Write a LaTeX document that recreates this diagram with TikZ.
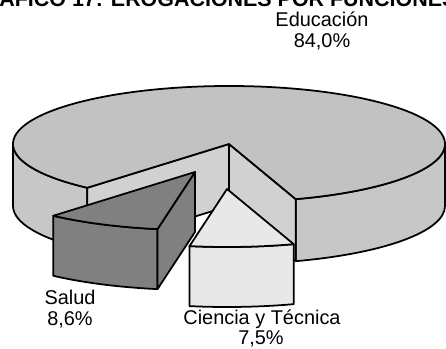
\documentclass[tikz,border=0pt]{standalone}
\usepackage{fontspec}
\setmainfont{Liberation Sans}
\usepackage{tikz}
\definecolor{edutop}{gray}{0.76}
\definecolor{eduside}{gray}{0.78}
\definecolor{educut}{gray}{0.82}
\definecolor{saludfill}{gray}{0.50}
\definecolor{cienfill}{gray}{0.91}

\begin{document}
\begin{tikzpicture}[x=0.03cm,y=-0.03cm,
    slice/.style={draw=black,line width=1.5pt,line join=round},
    lbl/.style={anchor=base,inner sep=0pt,font=\fontsize{17}{20}\selectfont}]
    \useasboundingbox (0,0) rectangle (446,349);
    \clip (0,0) rectangle (446,349);
    \def\rx{216} \def\ry{58}
    % Educacion
    \coordinate (e) at (229,144);
    \coordinate (eb) at (229,206);
    \coordinate (eR) at ({229+\rx*cos(72)},{144+\ry*sin(72)});
    \coordinate (eL) at ({229+\rx*cos(131)},{144+\ry*sin(131)});
    \coordinate (eE) at (445,144);
    \coordinate (eW) at (13,144);
    \draw[slice,fill=eduside] (eE) -- ++(0,62) arc[start angle=0,end angle=72,x radius=\rx,y radius=\ry]
      -- (eR) arc[start angle=72,end angle=0,x radius=\rx,y radius=\ry] -- cycle;
    \draw[slice,fill=eduside] (eL) -- ++(0,62) arc[start angle=131,end angle=180,x radius=\rx,y radius=\ry]
      -- (eW) arc[start angle=180,end angle=131,x radius=\rx,y radius=\ry] -- cycle;
    \draw[slice,fill=educut] (e) -- (eL) -- ++(0,62) -- (eb) -- cycle;
    \draw[slice,fill=educut] (e) -- (eR) -- ++(0,62) -- (eb) -- cycle;
    \draw[slice,fill=edutop] (e) -- (eL) arc[start angle=131,end angle=432,x radius=\rx,y radius=\ry] -- cycle;
    % Salud
    \coordinate (s) at (195,172);
    \coordinate (sb) at (195,232);
    \coordinate (sR) at ({195+\rx*cos(100)},{172+\ry*sin(100)});
    \coordinate (sL) at ({195+\rx*cos(131)},{172+\ry*sin(131)});
    \draw[slice,fill=saludfill] (sR) -- ++(0,60) arc[start angle=100,end angle=131,x radius=\rx,y radius=\ry]
      -- (sL) arc[start angle=131,end angle=100,x radius=\rx,y radius=\ry] -- cycle;
    \draw[slice,fill=saludfill] (s) -- (sR) -- ++(0,60) -- (sb) -- cycle;
    \draw[slice,fill=saludfill] (s) -- (sR) arc[start angle=100,end angle=131,x radius=\rx,y radius=\ry] -- cycle;
    % Ciencia y Tecnica
    \coordinate (c) at (227,189);
    \coordinate (cR) at ({227+\rx*cos(72)},{189+\ry*sin(72)});
    \coordinate (cL) at ({227+\rx*cos(100)},{189+\ry*sin(100)});
    \draw[slice,fill=cienfill] (cR) -- ++(0,60) arc[start angle=72,end angle=100,x radius=\rx,y radius=\ry]
      -- (cL) arc[start angle=100,end angle=72,x radius=\rx,y radius=\ry] -- cycle;
    \draw[slice,fill=cienfill] (c) -- (cR) arc[start angle=72,end angle=100,x radius=\rx,y radius=\ry] -- cycle;
    % labels
    \node[anchor=base west,inner sep=0pt,font=\bfseries\fontsize{18.3}{20}\selectfont] (title) at (-33,7)
      {GRAFICO 17: EROGACIONES POR FUNCIONES};
    \node[lbl] (eduName) at (322,27) {Educación};
    \node[lbl] (eduPct) at (322,48) {84,0\%};
    \node[lbl] (saludName) at (70,305) {Salud};
    \node[lbl] (saludPct) at (70,326) {8,6\%};
    \node[lbl] (cienName) at (262,325) {Ciencia y Técnica};
    \node[lbl] (cienPct) at (261,345) {7,5\%};
\end{tikzpicture}
\end{document}
